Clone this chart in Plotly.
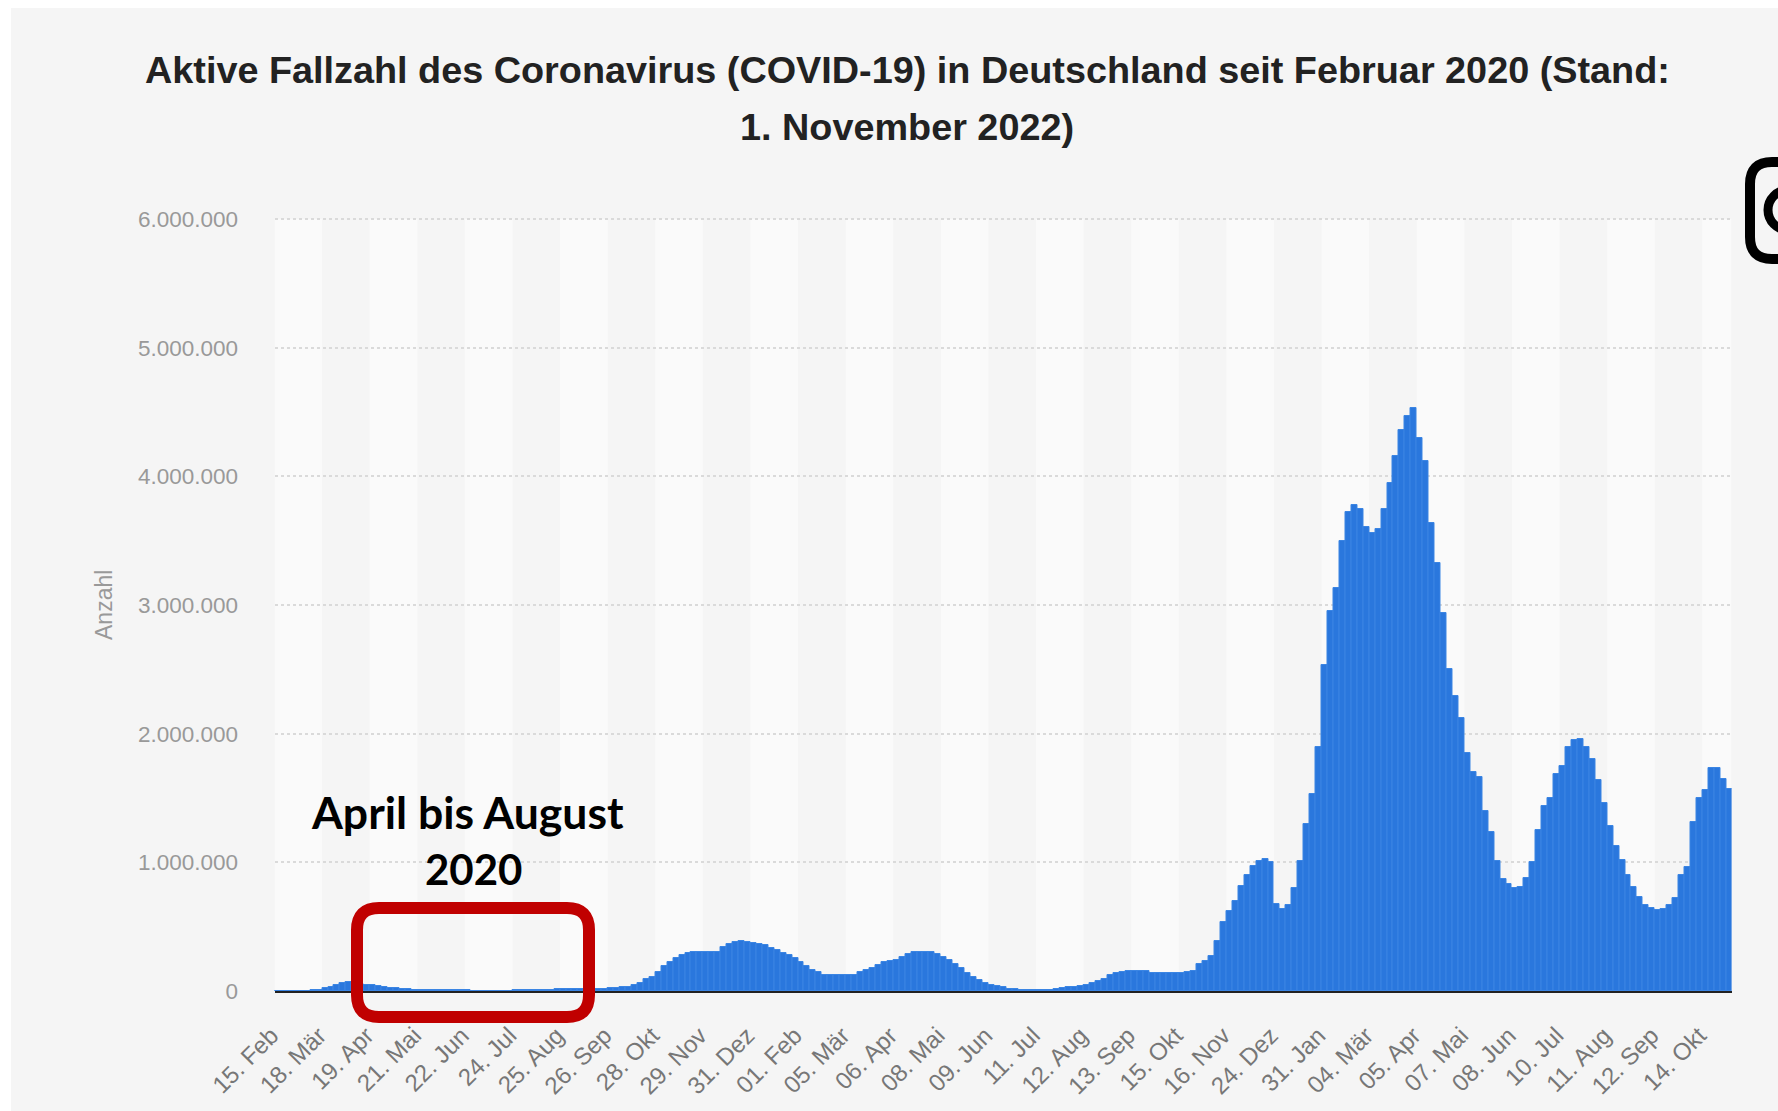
import plotly.graph_objects as go

W, H = 1778, 1111

# active cases in thousands, one reading every four categories of the original chart
active_thousands = [
    0, 0, 0, 0, 1, 2, 4, 10, 22, 35, 48, 60, 68, 62, 55, 50, 45, 38, 32, 26,
    20, 16, 13, 11, 10, 9, 8, 7, 6, 5, 5, 4, 4, 3, 3, 3, 3, 3, 3, 3,
    4, 4, 5, 7, 9, 10, 11, 12, 12, 13, 13, 13, 13, 13, 14, 15, 20, 25, 29, 35,
    45, 65, 90, 105, 150, 195, 225, 255, 280, 298, 305, 305, 305, 305, 305, 345, 365, 380, 390, 380,
    372, 365, 355, 335, 318, 298, 280, 255, 228, 195, 163, 145, 127, 124, 124, 124, 124, 125, 145, 160,
    175, 200, 228, 235, 240, 262, 285, 302, 305, 305, 305, 290, 262, 240, 210, 178, 140, 110, 85, 65,
    50, 40, 30, 18, 12, 10, 8, 8, 8, 8, 8, 12, 25, 28, 32, 38, 48, 62, 80, 95,
    122, 138, 150, 155, 155, 155, 155, 138, 137, 137, 137, 137, 137, 145, 155, 210, 232, 275, 390, 535,
    625, 700, 815, 905, 975, 1010, 1023, 1000, 680, 635, 670, 800, 1010, 1300, 1530, 1900, 2530, 2950, 3130, 3500,
    3720, 3780, 3745, 3610, 3560, 3590, 3745, 3950, 4160, 4359, 4470, 4530, 4300, 4120, 3640, 3330, 2940, 2500, 2290, 2120,
    1850, 1700, 1663, 1400, 1235, 1010, 870, 835, 800, 810, 880, 1000, 1250, 1440, 1500, 1690, 1750, 1900, 1950, 1960,
    1900, 1800, 1640, 1460, 1280, 1130, 1020, 900, 810, 730, 670, 645, 630, 640, 665, 720, 900, 960, 1310, 1500,
    1560, 1735, 1733, 1650, 1570,
]
x_tick_labels = [
    "15. Feb", "18. Mär", "19. Apr", "21. Mai", "22. Jun", "24. Jul", "25. Aug", "26. Sep",
    "28. Okt", "29. Nov", "31. Dez", "01. Feb", "05. Mär", "06. Apr", "08. Mai", "09. Jun",
    "11. Jul", "12. Aug", "13. Sep", "15. Okt", "16. Nov", "24. Dez", "31. Jan", "04. Mär",
    "05. Apr", "07. Mai", "08. Jun", "10. Jul", "11. Aug", "12. Sep", "14. Okt",
]
y_tick_values = [0, 1000, 2000, 3000, 4000, 5000, 6000]
y_tick_labels = ["0", "1.000.000", "2.000.000", "3.000.000", "4.000.000", "5.000.000", "6.000.000"]

READINGS_PER_TICK = 8
x_values = list(range(len(active_thousands)))
x_ticks = [i * READINGS_PER_TICK for i in range(len(x_tick_labels))]
x_max = len(active_thousands) - 0.6

def px(v):
    return v / W

def py(v):
    return 1 - v / H

L, R, T, B = 274.5, 1731.5, 218, 991

fig = go.Figure(go.Bar(
    x=x_values, y=active_thousands,
    marker=dict(color="#2a77dd", line=dict(color="#3b85e3", width=1)),
    hoverinfo="skip", showlegend=False,
))

shapes = [dict(type="rect", xref="paper", yref="paper", x0=px(11), x1=1.01, y0=-0.01, y1=py(8),
               fillcolor="#f5f5f5", line_width=0, layer="below")]

for i, t in enumerate(x_ticks):
    if i % 2 == 0:
        shapes.append(dict(type="rect", xref="x", yref="y",
                           x0=t - 0.5, x1=min(t + READINGS_PER_TICK - 0.5, x_max),
                           y0=0, y1=6000, fillcolor="#fafafa", line_width=0, layer="below"))

def rounded(x0, y0, x1, y1, r):
    X0, X1, Y0, Y1 = px(x0), px(x1), py(y0), py(y1)
    rx, ry = r / W, r / H
    return (f"M {X0+rx} {Y0} L {X1-rx} {Y0} Q {X1} {Y0} {X1} {Y0-ry} L {X1} {Y1+ry} "
            f"Q {X1} {Y1} {X1-rx} {Y1} L {X0+rx} {Y1} Q {X0} {Y1} {X0} {Y1+ry} "
            f"L {X0} {Y0-ry} Q {X0} {Y0} {X0+rx} {Y0} Z")

shapes.append(dict(type="path", xref="paper", yref="paper", path=rounded(357, 908, 589, 1017, 22),
                   line=dict(color="#c00000", width=12), layer="above"))
shapes.append(dict(type="path", xref="paper", yref="paper", path=rounded(1750, 162, 1860, 259, 22),
                   line=dict(color="#000000", width=10), layer="above"))
shapes.append(dict(type="circle", xref="paper", yref="paper",
                   x0=px(1768), x1=px(1808), y0=py(190), y1=py(230),
                   line=dict(color="#000000", width=9), layer="above"))

def text(s, x, y, size, color, family="Liberation Sans", bold=False, angle=0):
    return dict(text=f"<b>{s}</b>" if bold else s, xref="paper", yref="paper", x=px(x), y=py(y),
                xanchor="center", yanchor="middle", showarrow=False, textangle=angle,
                font=dict(family=family, size=size, color=color))

annotations = [
    text("Aktive Fallzahl des Coronavirus (COVID-19) in Deutschland seit Februar 2020 (Stand:",
         907, 70, 37.8, "#222222", bold=True),
    text("1. November 2022)", 907, 127, 37.8, "#222222", bold=True),
    text("Anzahl", 104, 605, 23, "#999999", angle=-90),
    text("April bis August", 467.5, 811, 44.5, "#000000", family="Lato", bold=True),
    text("2020", 473, 869, 42, "#000000", family="Lato", bold=True),
]

fig.update_layout(
    width=W, height=H, margin=dict(l=0, r=0, t=0, b=0),
    paper_bgcolor="#ffffff", plot_bgcolor="rgba(0,0,0,0)",
    bargap=0, shapes=shapes, annotations=annotations,
    xaxis=dict(domain=[px(L), px(R)], range=[-0.5, x_max], tickmode="array",
               tickvals=x_ticks, ticktext=x_tick_labels, tickangle=-45,
               tickfont=dict(family="Liberation Sans", size=24, color="#777777"),
               showgrid=False, zeroline=False, showline=True, linecolor="#222222", linewidth=2,
               ticks="outside", ticklen=19, tickcolor="rgba(0,0,0,0)", automargin=False,
               ticklabelshift=-6),
    # the range runs just past 6.000.000 so that its gridline is still drawn
    yaxis=dict(domain=[py(B), py(T)], range=[0, 6008], tickmode="array",
               tickvals=y_tick_values, ticktext=y_tick_labels,
               tickfont=dict(family="Liberation Sans", size=22.5, color="#999999"),
               showgrid=True, gridcolor="#dadada", griddash="dot", gridwidth=2, zeroline=False,
               ticks="outside", ticklen=31, tickcolor="rgba(0,0,0,0)", automargin=False),
)

fig.write_html("out.html", config={"displayModeBar": False},
               post_script="document.body.style.margin='0';document.documentElement.style.overflow='hidden';")
